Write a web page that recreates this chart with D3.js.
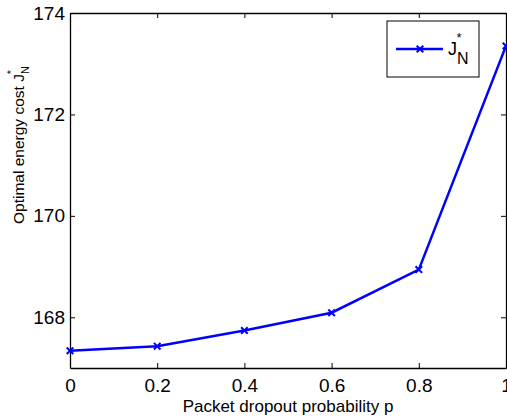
<!DOCTYPE html>
<html>
<head>
<meta charset="utf-8">
<script src="https://cdn.jsdelivr.net/npm/d3@7"></script>
<style>
  body { margin: 0; background: #fff; }
  text { font-family: "Liberation Sans", Arial, sans-serif; }
</style>
</head>
<body>
<svg id="drawing_region"></svg>
<script>
const pValues = [0, 0.2, 0.4, 0.6, 0.8, 1];
const costValues = [167.34, 167.43, 167.74, 168.09, 168.94, 173.35];
const xTicks = [0, 0.2, 0.4, 0.6, 0.8, 1];
const yTicks = [168, 170, 172, 174];

const config = {
    parent: '#drawing_region',
    width: 507,
    height: 417,
    margin: { top: 13, right: 1, bottom: 49, left: 70 }
};

const svg = d3.select(config.parent)
    .attr('width', config.width)
    .attr('height', config.height);

const iw = config.width - config.margin.left - config.margin.right;
const ih = config.height - config.margin.top - config.margin.bottom;

const chart = svg.append('g')
    .attr('transform', `translate(${config.margin.left}, ${config.margin.top})`);

const x = d3.scaleLinear().domain([0, 1]).range([0, iw]);
const y = d3.scaleLinear().domain([167, 174]).range([ih, 0]);

// axes, ticks pointing inward like matlab
const xAxis = chart.append('g')
    .attr('transform', `translate(0, ${ih})`)
    .call(d3.axisBottom(x).tickValues(xTicks).tickSizeInner(-5).tickSizeOuter(0).tickPadding(11)
        .tickFormat(d3.format('')));
const xTop = chart.append('g')
    .call(d3.axisTop(x).tickValues(xTicks).tickSizeInner(-5).tickSizeOuter(0).tickFormat(''));
const yAxis = chart.append('g')
    .call(d3.axisLeft(y).tickValues(yTicks).tickSizeInner(-5).tickSizeOuter(0).tickPadding(5)
        .tickFormat(d3.format('d')));
const yRight = chart.append('g')
    .attr('transform', `translate(${iw}, 0)`)
    .call(d3.axisRight(y).tickValues(yTicks).tickSizeInner(-5).tickSizeOuter(0).tickFormat(''));

[xAxis, xTop, yAxis, yRight].forEach(a => {
    a.attr('font-size', null).attr('font-family', null);
    a.select('.domain').attr('stroke', '#000').attr('stroke-width', 1.3);
    a.selectAll('.tick line').attr('stroke', '#000').attr('stroke-width', 1);
    a.selectAll('text').attr('fill', '#000')
        .style('font-size', '19px')
        .style('font-family', '"Liberation Sans", Arial, sans-serif');
});

const data = pValues.map((p, i) => ({ p: p, c: costValues[i] }));

const line = d3.line().x(d => x(d.p)).y(d => y(d.c));

chart.append('path')
    .datum(data)
    .attr('d', line)
    .attr('fill', 'none')
    .attr('stroke', '#0000ff')
    .attr('stroke-width', 2.5);

const cross = d3.symbol().type(d3.symbolX).size(30);
chart.selectAll('.marker')
    .data(data)
    .enter()
    .append('path')
    .attr('class', 'marker')
    .attr('transform', d => `translate(${x(d.p)}, ${y(d.c)})`)
    .attr('d', cross)
    .attr('fill', 'none')
    .attr('stroke', '#0000ff')
    .attr('stroke-width', 2);

// axis labels
svg.append('text')
    .attr('x', config.margin.left + iw / 2)
    .attr('y', 412)
    .attr('text-anchor', 'middle')
    .style('font-size', '17px')
    .text('Packet dropout probability p');

const yl = svg.append('text')
    .attr('transform', 'translate(24, 224) rotate(-90)')
    .attr('text-anchor', 'start')
    .style('font-size', '15.5px');
yl.append('tspan').text('Optimal energy cost J');
yl.append('tspan').attr('dy', 5).style('font-size', '11px').text('N');
yl.append('tspan').attr('dx', -8).attr('dy', -14).style('font-size', '11px').text('*');

// legend
const legend = svg.append('g').attr('transform', 'translate(387, 21)');
legend.append('rect')
    .attr('width', 92).attr('height', 56)
    .attr('fill', '#fff').attr('stroke', '#000').attr('stroke-width', 1);
legend.append('line')
    .attr('x1', 9).attr('x2', 56).attr('y1', 28).attr('y2', 28)
    .attr('stroke', '#0000ff').attr('stroke-width', 2.5);
legend.append('path')
    .attr('transform', 'translate(33, 28)')
    .attr('d', cross)
    .attr('fill', 'none').attr('stroke', '#0000ff').attr('stroke-width', 2);
const lt = legend.append('text').attr('x', 61).attr('y', 34).style('font-size', '18px');
lt.append('tspan').text('J');
lt.append('tspan').attr('dy', 9).style('font-size', '16px').text('N');
lt.append('tspan').attr('dx', -12).attr('dy', -22).style('font-size', '13px').text('*');
</script>
</body>
</html>
